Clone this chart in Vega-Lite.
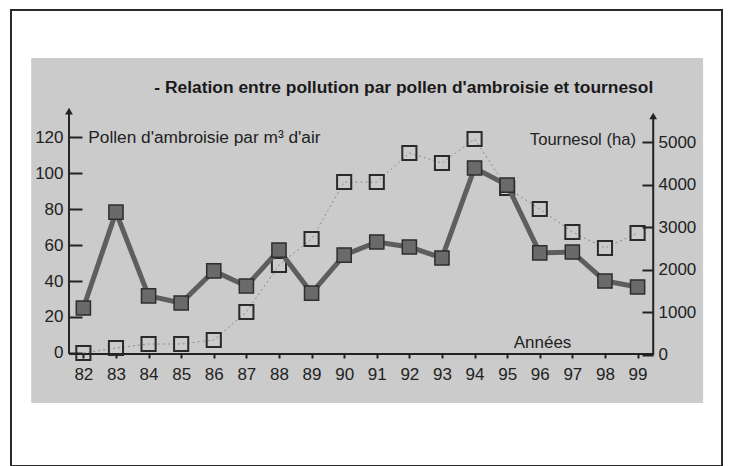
{
  "$schema": "https://vega.github.io/schema/vega-lite/v6.json",
  "width": 711,
  "height": 456,
  "autosize": "none",
  "padding": {"left": 11, "top": 10, "right": 10, "bottom": 0},
  "background": "white",
  "config": {
    "view": {"stroke": "#2a2a2a", "strokeWidth": 2, "fill": "white"},
    "font": "Liberation Sans",
    "axis": {"grid": false, "domain": false, "labelFont": "Liberation Sans", "labelFontSize": 17, "labelColor": "#222", "tickColor": "#222", "tickWidth": 2}
  },
  "datasets": {
    "series": [
      {"year": 82, "pollen": 25, "tournesol": 47},
      {"year": 83, "pollen": 78.3, "tournesol": 164},
      {"year": 84, "pollen": 31.7, "tournesol": 258},
      {"year": 85, "pollen": 27.8, "tournesol": 258},
      {"year": 86, "pollen": 45.6, "tournesol": 352},
      {"year": 87, "pollen": 37.2, "tournesol": 1009},
      {"year": 88, "pollen": 57.2, "tournesol": 2113},
      {"year": 89, "pollen": 33.3, "tournesol": 2723},
      {"year": 90, "pollen": 54.4, "tournesol": 4061},
      {"year": 91, "pollen": 61.7, "tournesol": 4061},
      {"year": 92, "pollen": 58.9, "tournesol": 4742},
      {"year": 93, "pollen": 52.8, "tournesol": 4507},
      {"year": 94, "pollen": 102.8, "tournesol": 5070},
      {"year": 95, "pollen": 93.3, "tournesol": 3920},
      {"year": 96, "pollen": 55.6, "tournesol": 3427},
      {"year": 97, "pollen": 56.1, "tournesol": 2887},
      {"year": 98, "pollen": 40, "tournesol": 2512},
      {"year": 99, "pollen": 36.7, "tournesol": 2864}
    ],
    "one": [{}]
  },
  "layer": [
    {
      "data": {"name": "one"},
      "layer": [
        {
          "mark": {"type": "rect", "color": "#cbcbcb"},
          "encoding": {
            "x": {"datum": 80.4, "type": "quantitative", "scale": {"domain": [79.78, 101.59], "nice": false, "zero": false},
              "axis": {"orient": "bottom", "offset": -112, "zindex": 2, "title": null, "values": [82, 83, 84, 85, 86, 87, 88, 89, 90, 91, 92, 93, 94, 95, 96, 97, 98, 99], "format": "d", "tickSize": 4, "labelPadding": 8, "labelFlush": false}},
            "x2": {"datum": 101.01},
            "y": {"datum": 163.9, "type": "quantitative", "scale": {"domain": [-62.8, 190.6], "nice": false, "zero": false}, "axis": null},
            "y2": {"datum": -27.8}
          }
        },
        {
          "mark": {"type": "rule", "color": "#222", "strokeWidth": 2},
          "encoding": {
            "x": {"datum": 81.56, "type": "quantitative", "scale": {"domain": [79.78, 101.59], "nice": false, "zero": false},
              "axis": {"orient": "bottom", "offset": -112, "zindex": 2, "title": null, "values": [82, 83, 84, 85, 86, 87, 88, 89, 90, 91, 92, 93, 94, 95, 96, 97, 98, 99], "format": "d", "tickSize": 4, "labelPadding": 8, "labelFlush": false}},
            "y": {"datum": -0.5, "type": "quantitative", "scale": {"domain": [-62.8, 190.6], "nice": false, "zero": false}, "axis": null},
            "y2": {"datum": 134}
          }
        },
        {
          "mark": {"type": "rule", "color": "#222", "strokeWidth": 2},
          "encoding": {
            "x": {"datum": 99.48, "type": "quantitative", "scale": {"domain": [79.78, 101.59], "nice": false, "zero": false},
              "axis": {"orient": "bottom", "offset": -112, "zindex": 2, "title": null, "values": [82, 83, 84, 85, 86, 87, 88, 89, 90, 91, 92, 93, 94, 95, 96, 97, 98, 99], "format": "d", "tickSize": 4, "labelPadding": 8, "labelFlush": false}},
            "y": {"datum": -1.1, "type": "quantitative", "scale": {"domain": [-62.8, 190.6], "nice": false, "zero": false}, "axis": null},
            "y2": {"datum": 131}
          }
        },
        {
          "mark": {"type": "rule", "color": "#222", "strokeWidth": 2},
          "encoding": {
            "x": {"datum": 81.56, "type": "quantitative", "scale": {"domain": [79.78, 101.59], "nice": false, "zero": false},
              "axis": {"orient": "bottom", "offset": -112, "zindex": 2, "title": null, "values": [82, 83, 84, 85, 86, 87, 88, 89, 90, 91, 92, 93, 94, 95, 96, 97, 98, 99], "format": "d", "tickSize": 4, "labelPadding": 8, "labelFlush": false}},
            "x2": {"datum": 99.48},
            "y": {"datum": -0.6, "type": "quantitative", "scale": {"domain": [-62.8, 190.6], "nice": false, "zero": false}, "axis": null}
          }
        },
        {
          "mark": {"type": "point", "shape": "triangle-up", "filled": true, "color": "#222", "size": 60, "opacity": 1},
          "encoding": {
            "x": {"datum": 81.56, "type": "quantitative", "scale": {"domain": [79.78, 101.59], "nice": false, "zero": false},
              "axis": {"orient": "bottom", "offset": -112, "zindex": 2, "title": null, "values": [82, 83, 84, 85, 86, 87, 88, 89, 90, 91, 92, 93, 94, 95, 96, 97, 98, 99], "format": "d", "tickSize": 4, "labelPadding": 8, "labelFlush": false}},
            "y": {"datum": 134.4, "type": "quantitative", "scale": {"domain": [-62.8, 190.6], "nice": false, "zero": false}, "axis": null}
          }
        },
        {
          "mark": {"type": "point", "shape": "triangle-up", "filled": true, "color": "#222", "size": 60, "opacity": 1},
          "encoding": {
            "x": {"datum": 99.48, "type": "quantitative", "scale": {"domain": [79.78, 101.59], "nice": false, "zero": false},
              "axis": {"orient": "bottom", "offset": -112, "zindex": 2, "title": null, "values": [82, 83, 84, 85, 86, 87, 88, 89, 90, 91, 92, 93, 94, 95, 96, 97, 98, 99], "format": "d", "tickSize": 4, "labelPadding": 8, "labelFlush": false}},
            "y": {"datum": 131.7, "type": "quantitative", "scale": {"domain": [-62.8, 190.6], "nice": false, "zero": false}, "axis": null}
          }
        },
        {
          "mark": {"type": "text", "text": "- Relation entre pollution par pollen d'ambroisie et tournesol", "font": "Liberation Sans", "fontWeight": "bold", "fontSize": 17.4, "align": "right", "baseline": "middle", "color": "#1a1a1a"},
          "encoding": {
            "x": {"datum": 99.48, "type": "quantitative", "scale": {"domain": [79.78, 101.59], "nice": false, "zero": false},
              "axis": {"orient": "bottom", "offset": -112, "zindex": 2, "title": null, "values": [82, 83, 84, 85, 86, 87, 88, 89, 90, 91, 92, 93, 94, 95, 96, 97, 98, 99], "format": "d", "tickSize": 4, "labelPadding": 8, "labelFlush": false}},
            "y": {"datum": 147.5, "type": "quantitative", "scale": {"domain": [-62.8, 190.6], "nice": false, "zero": false}, "axis": null}
          }
        },
        {
          "mark": {"type": "text", "text": "Pollen d'ambroisie par m³ d'air", "font": "Liberation Sans", "fontSize": 17.3, "align": "left", "baseline": "middle", "color": "#222"},
          "encoding": {
            "x": {"datum": 82.15, "type": "quantitative", "scale": {"domain": [79.78, 101.59], "nice": false, "zero": false},
              "axis": {"orient": "bottom", "offset": -112, "zindex": 2, "title": null, "values": [82, 83, 84, 85, 86, 87, 88, 89, 90, 91, 92, 93, 94, 95, 96, 97, 98, 99], "format": "d", "tickSize": 4, "labelPadding": 8, "labelFlush": false}},
            "y": {"datum": 119.4, "type": "quantitative", "scale": {"domain": [-62.8, 190.6], "nice": false, "zero": false}, "axis": null}
          }
        },
        {
          "mark": {"type": "text", "text": "Tournesol (ha)", "font": "Liberation Sans", "fontSize": 16.6, "align": "right", "baseline": "middle", "color": "#222"},
          "encoding": {
            "x": {"datum": 98.95, "type": "quantitative", "scale": {"domain": [79.78, 101.59], "nice": false, "zero": false},
              "axis": {"orient": "bottom", "offset": -112, "zindex": 2, "title": null, "values": [82, 83, 84, 85, 86, 87, 88, 89, 90, 91, 92, 93, 94, 95, 96, 97, 98, 99], "format": "d", "tickSize": 4, "labelPadding": 8, "labelFlush": false}},
            "y": {"datum": 118.3, "type": "quantitative", "scale": {"domain": [-62.8, 190.6], "nice": false, "zero": false}, "axis": null}
          }
        },
        {
          "mark": {"type": "text", "text": "Années", "font": "Liberation Sans", "fontSize": 17, "align": "left", "baseline": "middle", "color": "#222"},
          "encoding": {
            "x": {"datum": 95.2, "type": "quantitative", "scale": {"domain": [79.78, 101.59], "nice": false, "zero": false},
              "axis": {"orient": "bottom", "offset": -112, "zindex": 2, "title": null, "values": [82, 83, 84, 85, 86, 87, 88, 89, 90, 91, 92, 93, 94, 95, 96, 97, 98, 99], "format": "d", "tickSize": 4, "labelPadding": 8, "labelFlush": false}},
            "y": {"datum": 5.6, "type": "quantitative", "scale": {"domain": [-62.8, 190.6], "nice": false, "zero": false}, "axis": null}
          }
        }
      ]
    },
    {
      "data": {"name": "series"},
      "layer": [
        {
          "mark": {"type": "line", "color": "#8a8a8a", "strokeWidth": 1, "strokeDash": [2, 3]},
          "encoding": {
            "x": {"field": "year", "type": "quantitative", "scale": {"domain": [79.78, 101.59], "nice": false, "zero": false},
              "axis": {"orient": "bottom", "offset": -112, "zindex": 2, "title": null, "values": [82, 83, 84, 85, 86, 87, 88, 89, 90, 91, 92, 93, 94, 95, 96, 97, 98, 99], "format": "d", "tickSize": 4, "labelPadding": 8, "labelFlush": false}},
            "y": {"field": "tournesol", "type": "quantitative", "scale": {"domain": [-2606, 8099], "nice": false, "zero": false},
              "axis": {"orient": "right", "offset": -69, "zindex": 2, "title": null, "values": [0, 1000, 2000, 3000, 4000, 5000], "format": "d", "tickSize": -11, "labelPadding": 16}}
          }
        },
        {
          "mark": {"type": "point", "shape": "square", "filled": false, "color": "#2a2a2a", "strokeWidth": 2, "size": 200, "opacity": 1},
          "encoding": {
            "x": {"field": "year", "type": "quantitative", "scale": {"domain": [79.78, 101.59], "nice": false, "zero": false},
              "axis": {"orient": "bottom", "offset": -112, "zindex": 2, "title": null, "values": [82, 83, 84, 85, 86, 87, 88, 89, 90, 91, 92, 93, 94, 95, 96, 97, 98, 99], "format": "d", "tickSize": 4, "labelPadding": 8, "labelFlush": false}},
            "y": {"field": "tournesol", "type": "quantitative", "scale": {"domain": [-2606, 8099], "nice": false, "zero": false},
              "axis": {"orient": "right", "offset": -69, "zindex": 2, "title": null, "values": [0, 1000, 2000, 3000, 4000, 5000], "format": "d", "tickSize": -11, "labelPadding": 16}}
          }
        }
      ]
    },
    {
      "data": {"name": "series"},
      "layer": [
        {
          "mark": {"type": "line", "color": "#5e5e5e", "strokeWidth": 5},
          "encoding": {
            "x": {"field": "year", "type": "quantitative", "scale": {"domain": [79.78, 101.59], "nice": false, "zero": false},
              "axis": {"orient": "bottom", "offset": -112, "zindex": 2, "title": null, "values": [82, 83, 84, 85, 86, 87, 88, 89, 90, 91, 92, 93, 94, 95, 96, 97, 98, 99], "format": "d", "tickSize": 4, "labelPadding": 8, "labelFlush": false}},
            "y": {"field": "pollen", "type": "quantitative", "scale": {"domain": [-62.8, 190.6], "nice": false, "zero": false},
              "axis": {"orient": "left", "offset": -58, "zindex": 2, "title": null, "values": [0, 20, 40, 60, 80, 100, 120], "tickSize": -13, "labelPadding": 19}}
          }
        },
        {
          "mark": {"type": "point", "shape": "square", "filled": true, "color": "#6a6a6a", "stroke": "#2e2e2e", "strokeWidth": 1.5, "size": 200, "opacity": 1},
          "encoding": {
            "x": {"field": "year", "type": "quantitative", "scale": {"domain": [79.78, 101.59], "nice": false, "zero": false},
              "axis": {"orient": "bottom", "offset": -112, "zindex": 2, "title": null, "values": [82, 83, 84, 85, 86, 87, 88, 89, 90, 91, 92, 93, 94, 95, 96, 97, 98, 99], "format": "d", "tickSize": 4, "labelPadding": 8, "labelFlush": false}},
            "y": {"field": "pollen", "type": "quantitative", "scale": {"domain": [-62.8, 190.6], "nice": false, "zero": false},
              "axis": {"orient": "left", "offset": -58, "zindex": 2, "title": null, "values": [0, 20, 40, 60, 80, 100, 120], "tickSize": -13, "labelPadding": 19}}
          }
        }
      ]
    }
  ],
  "resolve": {"scale": {"y": "independent"}, "axis": {"y": "independent"}}
}
